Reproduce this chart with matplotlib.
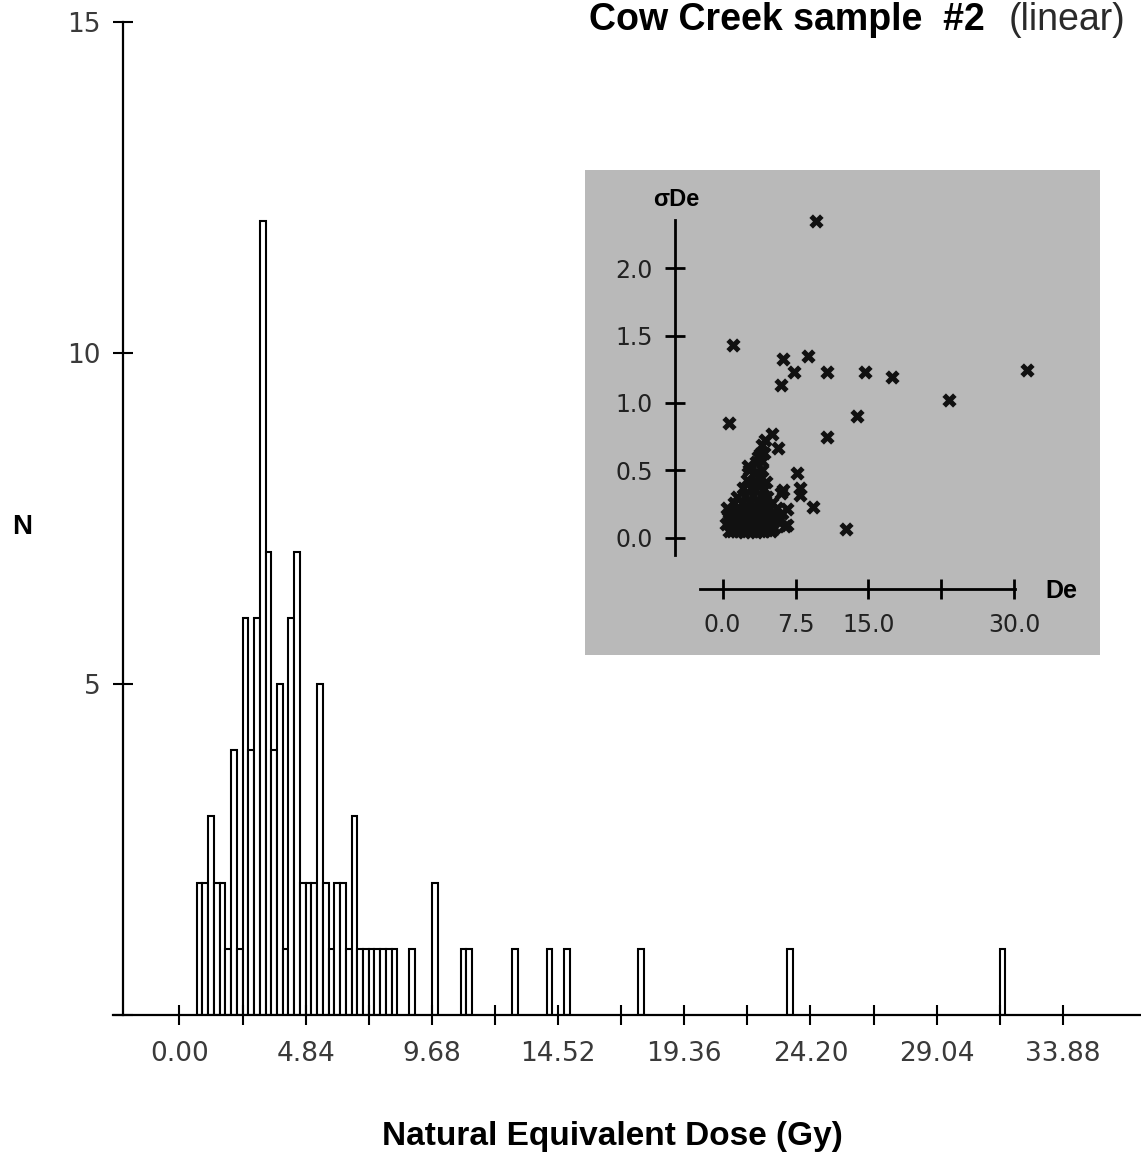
import numpy as np
import matplotlib
matplotlib.use("Agg")
import matplotlib.pyplot as plt

# histogram: bin index (width BIN_W Gy) and number of aliquots
BIN_W = 0.22
bin_idx = [3, 4, 5, 6, 7, 8, 9, 10, 11, 12, 13, 14, 15, 16, 17, 18, 19, 20,
           21, 22, 23, 24, 25, 26, 27, 28, 29, 30, 31, 32, 33, 34, 35, 36, 37,
           40, 44, 49, 50, 58, 64, 67, 80, 106, 143]
counts = [2, 2, 3, 2, 2, 1, 4, 1, 6, 4, 6, 12, 7, 4, 5, 1, 6, 7,
          2, 2, 2, 5, 2, 1, 2, 2, 1, 3, 1, 1, 1, 1, 1, 1, 1,
          1, 2, 1, 1, 1, 1, 1, 1, 1, 1]

x_ticks = [2.42 * i for i in range(15)]
x_labels = ["%.2f" % t if i % 2 == 0 else "" for i, t in enumerate(x_ticks)]
y_ticks = [0, 5, 10, 15]
y_labels = ["", "5", "10", "15"]

# inset: De vs sigma(De)
de = [9.61, 1.03, 6.25, 8.75, 7.38, 10.74, 6.01, 14.66, 17.40, 31.31, 23.31,
      13.80, 0.65, 10.74, 5.05, 5.66, 4.02, 7.62, 7.96, 7.96, 6.25, 9.34,
      12.70, 6.42, 2.64, 3.67, 4.36, 6.05, 6.59,
      0.6, 1.4, 2.2, 3.0, 3.8, 4.6, 5.3,
      1.0, 1.8, 2.6, 3.4, 4.2, 5.0,
      0.3, 1.0, 1.8, 2.6, 3.4, 4.2, 5.0, 5.7,
      0.7, 1.5, 2.3, 3.1, 3.9, 4.7, 5.5,
      0.5, 1.3, 2.1, 2.9, 3.7, 4.5, 5.3, 6.1,
      1.0, 1.9, 2.7, 3.5, 4.3, 5.1,
      0.4, 0.8, 1.6, 2.4, 3.2, 4.0, 4.8, 5.6, 6.6,
      1.2, 2.0, 2.8, 3.6, 4.4, 5.1,
      1.5, 2.3, 3.1, 3.9, 4.6,
      2.1, 2.9, 3.6, 4.3,
      2.5, 3.2, 3.9, 4.5,
      2.7, 3.5, 4.1,
      3.4, 4.0,
      3.8, 4.3]
sde = [2.35, 1.43, 1.33, 1.35, 1.23, 1.23, 1.13, 1.23, 1.19, 1.245, 1.02,
       0.906, 0.85, 0.75, 0.767, 0.668, 0.688, 0.478, 0.366, 0.317, 0.354, 0.225,
       0.064, 0.087, 0.53, 0.60, 0.725, 0.33, 0.094,
       0.05, 0.05, 0.04, 0.05, 0.05, 0.06, 0.07,
       0.05, 0.05, 0.06, 0.04, 0.05, 0.05,
       0.10, 0.10, 0.09, 0.10, 0.10, 0.11, 0.10, 0.12,
       0.13, 0.12, 0.13, 0.13, 0.13, 0.13, 0.14,
       0.15, 0.15, 0.15, 0.16, 0.15, 0.16, 0.16, 0.18,
       0.18, 0.18, 0.18, 0.18, 0.18, 0.18,
       0.22, 0.20, 0.21, 0.20, 0.21, 0.20, 0.21, 0.22, 0.21,
       0.26, 0.26, 0.27, 0.26, 0.27, 0.26,
       0.30, 0.31, 0.32, 0.31, 0.30,
       0.37, 0.37, 0.38, 0.36,
       0.43, 0.42, 0.44, 0.41,
       0.50, 0.49, 0.50,
       0.56, 0.57,
       0.62, 0.63]
inset_xticks = [0, 7.5, 15, 22.5, 30]
inset_xlabels = ["0.0", "7.5", "15.0", "", "30.0"]
inset_yticks = [0, 0.5, 1.0, 1.5, 2.0]
inset_ylabels = ["0.0", "0.5", "1.0", "1.5", "2.0"]

W, H = 1141, 1160
fig = plt.figure(figsize=(W / 100, H / 100), dpi=100)
plt.rcParams["font.family"] = ["Liberation Sans", "DejaVu Sans"]
num_font = dict(family="DejaVu Sans", size=19, color="#3a3a3a")

# main histogram
ax = fig.add_axes([113 / W, (H - 1015) / H, 1 - 113 / W, (1015 - 22) / H])
edges = [i * BIN_W for i in bin_idx]
ax.bar(edges, counts, width=BIN_W, align="edge", facecolor="white",
       edgecolor="black", linewidth=1.5)
ax.set_xlim(-2.55, 36.88)
ax.set_ylim(0, 15)
for s in ("top", "right"):
    ax.spines[s].set_visible(False)
ax.spines["left"].set_position(("data", -2.16))
for s in ("left", "bottom"):
    ax.spines[s].set_linewidth(1.6)
ax.set_xticks(x_ticks)
ax.set_xticklabels(x_labels, fontdict=num_font)
ax.set_yticks(y_ticks)
ax.set_yticklabels(y_labels, fontdict=num_font)
ax.tick_params(axis="both", direction="inout", length=14, width=1.5)
ax.tick_params(axis="x", pad=12)
ax.tick_params(axis="y", pad=9)
ax.patch.set_alpha(0)

fig.text(612 / W, 1 - 1137 / H, "Natural Equivalent Dose (Gy)", ha="center",
         va="center", fontsize=24, fontweight="bold")
fig.text(22 / W, 1 - 527 / H, "N", ha="center", va="center", fontsize=20,
         fontweight="bold")
fig.text(985 / W, 1 - 20 / H, "Cow Creek sample  #2", ha="right", va="center",
         fontsize=27, fontweight="bold")
fig.text(1125 / W, 1 - 20 / H, "(linear)", ha="right", va="center",
         fontsize=27, color="#2a2a2a")

# inset scatter
ins = fig.add_axes([585 / W, (H - 655) / H, 515 / W, 485 / H],
                   facecolor="#b9b9b9")
ins.scatter(de, sde, marker="X", s=105, color="#111111", linewidths=0)
ins.set_xlim(-14.18, 38.86)
ins.set_ylim(-0.872, 2.73)
for s in ("top", "right"):
    ins.spines[s].set_visible(False)
ins.spines["left"].set_position(("data", -4.91))
ins.spines["left"].set_bounds(-0.128, 2.36)
ins.spines["bottom"].set_position(("data", -0.383))
ins.spines["bottom"].set_bounds(-2.34, 30.1)
for s in ("left", "bottom"):
    ins.spines[s].set_linewidth(2.0)
small_font = dict(family="DejaVu Sans", size=17, color="#222222")
ins.set_xticks(inset_xticks)
ins.set_xticklabels(inset_xlabels, fontdict=small_font)
ins.set_yticks(inset_yticks)
ins.set_yticklabels(inset_ylabels, fontdict=small_font)
ins.tick_params(axis="both", direction="inout", length=14, width=2.0)
ins.tick_params(axis="x", pad=10)
ins.tick_params(axis="y", pad=9)
ins.text(-4.74, 2.51, "\u03c3De", ha="center", va="center", fontsize=17,
         fontweight="bold")
ins.text(34.9, -0.396, "De", ha="center", va="center", fontsize=18,
         fontweight="bold")

fig.savefig("out.png", dpi=100)
